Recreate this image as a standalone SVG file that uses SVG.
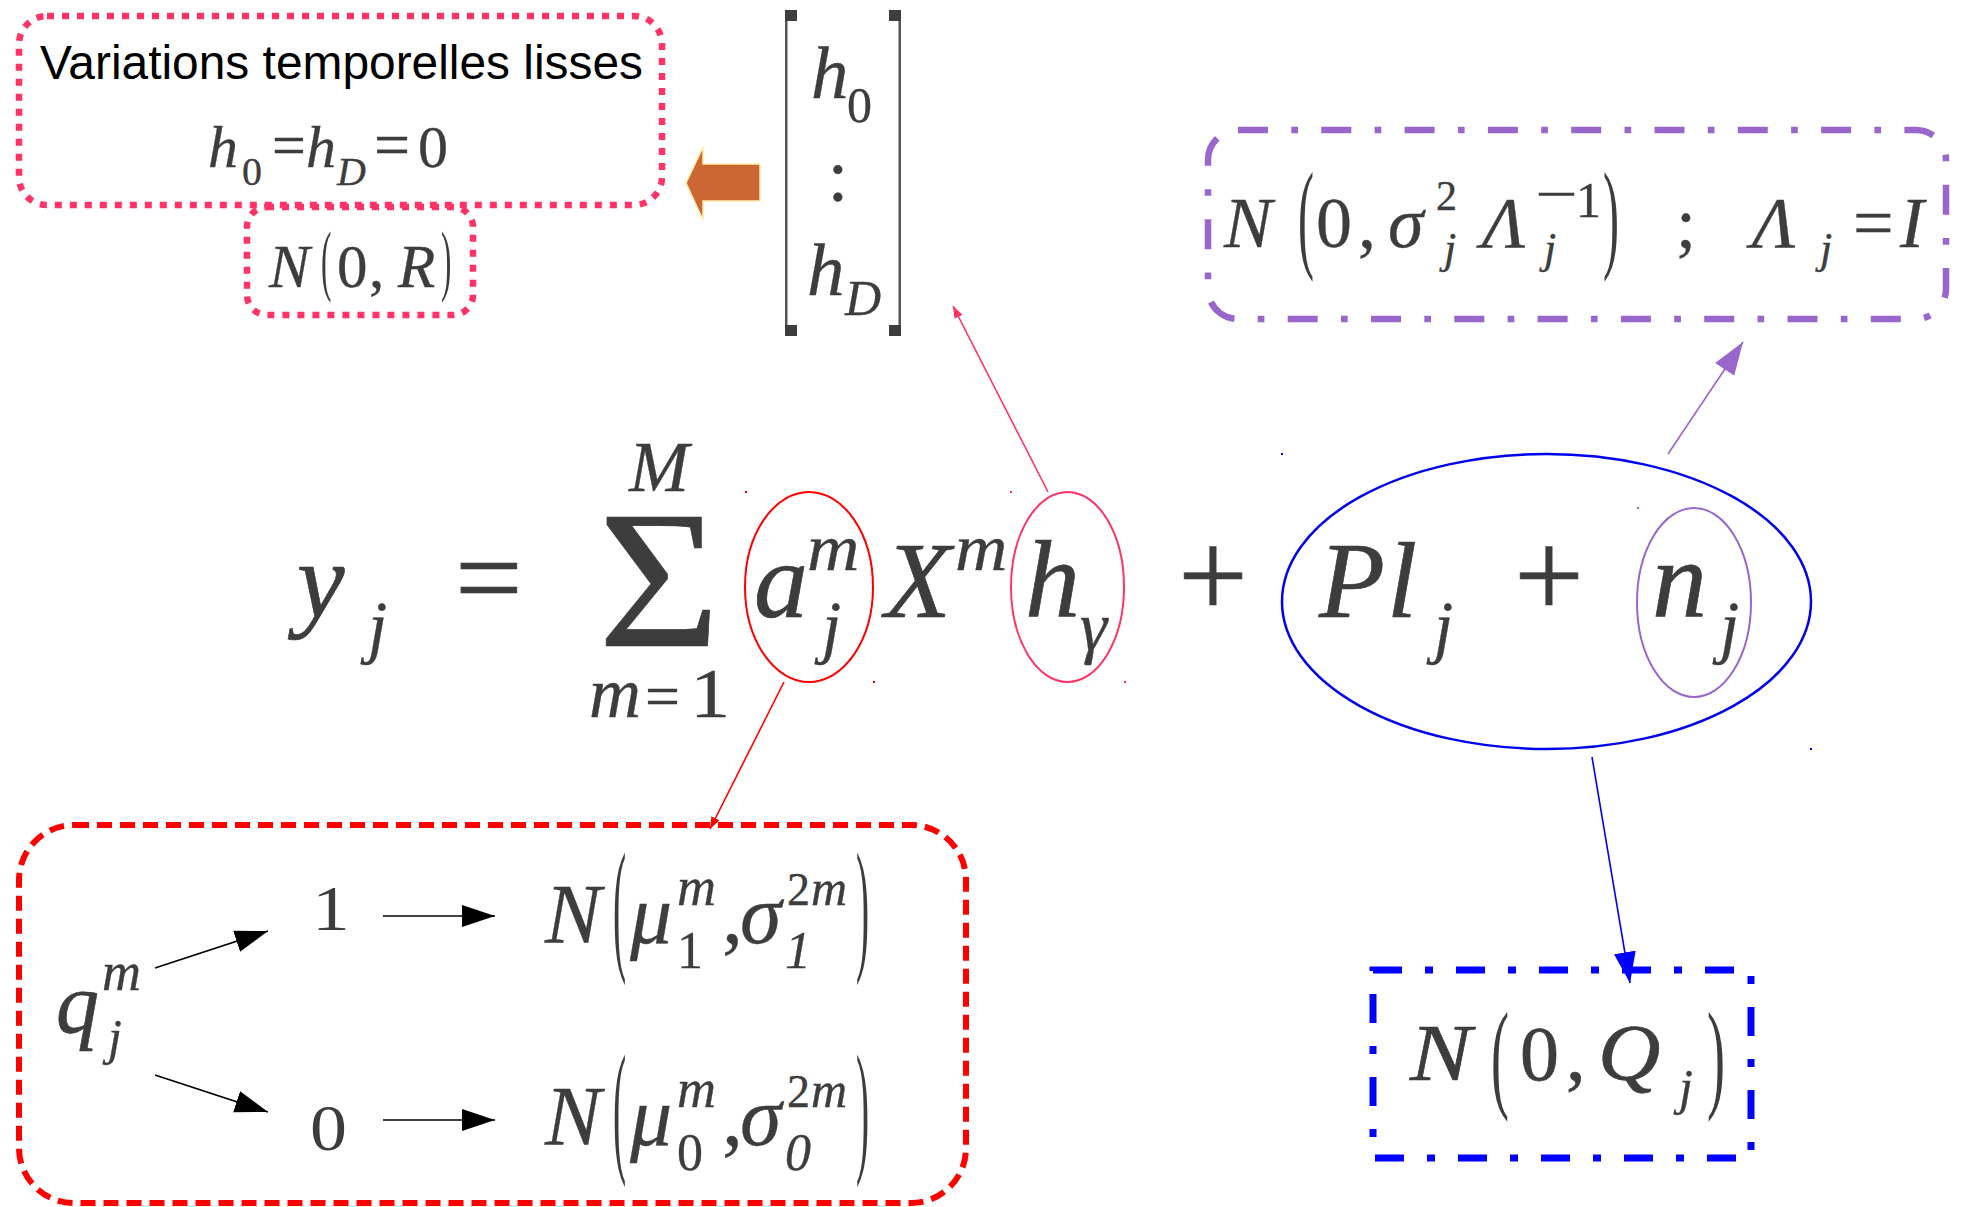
<svg xmlns="http://www.w3.org/2000/svg" width="1961" height="1207" viewBox="0 0 1961 1207">
<defs>
<style>
.m{font-family:"Liberation Serif",serif;font-style:italic;fill:#3d3d3d;stroke:#3d3d3d;stroke-width:0.35}
.u{font-family:"Liberation Serif",serif;fill:#3d3d3d;stroke:#3d3d3d;stroke-width:0.35}
.big{stroke-width:0.7}
.thin{stroke-width:0}
.lbl{font-family:"Liberation Sans",sans-serif;fill:#000}
.pinkbox{fill:none;stroke:#ff3366;stroke-width:6.5;stroke-dasharray:7 8}
.redbox{fill:none;stroke:#ff0000;stroke-width:6;stroke-dasharray:15 8}
.purplebox{fill:none;stroke:#9966cc;stroke-width:6.5;stroke-dasharray:30 23.3 6.7 23.3}
.bluebox{fill:none;stroke:#0000ff;stroke-width:7;stroke-dasharray:29 23 8 23}
.conn{fill:none;stroke-width:1.6}
.ell{fill:none}
</style>
<marker id="ahBlack" markerUnits="userSpaceOnUse" markerWidth="34" markerHeight="23" refX="33" refY="11" orient="auto"><path d="M0,0 L33,11 L0,22 z" fill="#000"/></marker>
<marker id="ahBlue" markerUnits="userSpaceOnUse" markerWidth="32" markerHeight="23" refX="31" refY="11" orient="auto"><path d="M0,0 L31,11 L0,22 z" fill="#0000ff"/></marker>
<marker id="ahPurple" markerUnits="userSpaceOnUse" markerWidth="34" markerHeight="24" refX="33" refY="11.5" orient="auto"><path d="M0,0 L33,11.5 L0,23 z" fill="#9966cc"/></marker>
<marker id="ahPink" markerUnits="userSpaceOnUse" markerWidth="13" markerHeight="10" refX="12" refY="4.5" orient="auto"><path d="M0,0 L12,4.5 L0,9 z" fill="#ff3366"/></marker>
<marker id="ahRed" markerUnits="userSpaceOnUse" markerWidth="13" markerHeight="10" refX="12" refY="4.5" orient="auto"><path d="M0,0 L12,4.5 L0,9 z" fill="#ff0000"/></marker>
</defs>
<rect width="1961" height="1207" fill="#fff"/>

<g id="box-smooth">
<rect class="pinkbox" x="19" y="16" width="643" height="189" rx="28"/>
<text class="lbl" x="40" y="79" font-size="47.5" textLength="603" lengthAdjust="spacingAndGlyphs">Variations temporelles lisses</text>
<text class="m" x="208" y="167" font-size="60">h</text>
<text class="u" x="242" y="185" font-size="40">0</text>
<text class="u" x="272" y="165" font-size="60">=</text>
<text class="m" x="306" y="167" font-size="60">h</text>
<text class="m" x="337" y="185" font-size="40">D</text>
<text class="u" x="374" y="166" font-size="64">=</text>
<text class="u" x="418" y="167" font-size="60">0</text>
</g>

<g id="box-NR">
<rect class="pinkbox" x="247" y="207" width="226" height="108" rx="20"/>
<text class="m" x="269" y="287" font-size="61">N</text>
<text class="u thin" font-size="78" transform="translate(321,286) scale(0.4,1)">(</text>
<text class="u" x="337" y="287" font-size="61">0</text>
<text class="u" x="369" y="287" font-size="61">,</text>
<text class="m" x="398" y="287" font-size="61">R</text>
<text class="u thin" font-size="78" transform="translate(441,286) scale(0.4,1)">)</text>
</g>

<g id="matrix-h">
<rect x="785" y="10" width="2.5" height="326" fill="#555"/>
<rect x="785" y="10" width="12" height="11" fill="#3d3d3d"/>
<rect x="785" y="325" width="12" height="11" fill="#3d3d3d"/>
<rect x="898.5" y="10" width="2.5" height="326" fill="#555"/>
<rect x="889" y="10" width="12" height="11" fill="#3d3d3d"/>
<rect x="889" y="325" width="12" height="11" fill="#3d3d3d"/>
<text class="m" x="811" y="98" font-size="75">h</text>
<text class="u" x="847" y="122" font-size="50">0</text>
<text class="u" x="838" y="201" font-size="75" text-anchor="middle">:</text>
<text class="m" x="807" y="295" font-size="75">h</text>
<text class="m" x="845" y="315" font-size="50">D</text>
</g>

<g id="equation">
<text class="m big" x="297" y="617" font-size="107">y</text>
<text class="m" x="368" y="650" font-size="69">j</text>
<text class="u big" x="455" y="618" font-size="120">=</text>
<text class="u big" font-size="196" transform="translate(598,646) scale(1.07,1)">Σ</text>
<text class="m" x="629" y="491" font-size="72">M</text>
<text class="m" x="589" y="717" font-size="72">m</text>
<text class="u" x="645" y="717" font-size="62">=</text>
<text class="u" font-size="70" transform="translate(690,717) scale(1.15,1)">1</text>
<text class="m big" x="754" y="617" font-size="108">a</text>
<text class="m" font-size="66" transform="translate(807,570) scale(1.1,1)">m</text>
<text class="m" x="822" y="650" font-size="69">j</text>
<text class="m big" x="885" y="617" font-size="108">X</text>
<text class="m" font-size="66" transform="translate(955,570) scale(1.1,1)">m</text>
<text class="m big" x="1025" y="617" font-size="110">h</text>
<text class="m" x="1080" y="650" font-size="69">γ</text>
<text class="u big" x="1178" y="617" font-size="124">+</text>
<text class="m big" x="1319" y="617" font-size="108">P</text>
<text class="m big" x="1387" y="617" font-size="108">l</text>
<text class="m" x="1434" y="650" font-size="69">j</text>
<text class="u big" x="1514" y="617" font-size="124">+</text>
<text class="m big" x="1652" y="617" font-size="110">n</text>
<text class="m" x="1720" y="650" font-size="69">j</text>
</g>

<g id="circle-a"><ellipse class="ell" cx="809" cy="587" rx="64" ry="95" stroke="#ff0000" stroke-width="2"/></g>
<g id="circle-h"><ellipse class="ell" cx="1067.5" cy="587" rx="56.5" ry="95" stroke="#ff3366" stroke-width="2"/></g>
<g id="circle-noise"><ellipse class="ell" cx="1546.5" cy="601.5" rx="264.5" ry="147.5" stroke="#0000ee" stroke-width="2.5"/></g>
<g id="circle-n"><ellipse class="ell" cx="1694" cy="602.5" rx="57" ry="94.5" stroke="#9966cc" stroke-width="2"/></g>

<g id="marks">
<rect x="745" y="491" width="2" height="2" fill="#ff0000"/>
<rect x="873" y="681" width="2" height="2" fill="#ff0000"/>
<rect x="1010" y="491" width="2" height="2" fill="#ff3366"/>
<rect x="1124" y="681" width="2" height="2" fill="#ff3366"/>
<rect x="1281" y="453" width="2" height="2" fill="#0000ee"/>
<rect x="1810" y="748" width="2" height="2" fill="#0000ee"/>
<rect x="1637" y="507" width="2" height="2" fill="#9966cc"/>
</g>

<g id="box-mixture">
<rect class="redbox" x="19" y="825" width="947" height="378" rx="55"/>
<text class="m big" x="56" y="1032" font-size="86">q</text>
<text class="m" x="102" y="990" font-size="54">m</text>
<text class="m" x="108" y="1054" font-size="50">j</text>
<text class="u thin" font-size="64" transform="translate(312,930) scale(1.18,1)">1</text>
<text class="u thin" font-size="66" transform="translate(310,1150) scale(1.12,1)">0</text>
<text class="m" x="545" y="943" font-size="84">N</text>
<text class="u thin" font-size="146" transform="translate(613,954) scale(0.27,1)">(</text>
<text class="m" x="630" y="943" font-size="84">μ</text>
<text class="m" x="677" y="905" font-size="54">m</text>
<text class="u" x="677" y="968" font-size="52">1</text>
<text class="u" x="722" y="943" font-size="84">,</text>
<text class="m" x="740" y="943" font-size="84">σ</text>
<text class="u" x="787" y="905" font-size="46">2</text>
<text class="m" x="811" y="905" font-size="50">m</text>
<text class="m" x="785" y="968" font-size="52">1</text>
<text class="u thin" font-size="146" transform="translate(856,954) scale(0.27,1)">)</text>
<text class="m" x="545" y="1145" font-size="84">N</text>
<text class="u thin" font-size="146" transform="translate(613,1156) scale(0.27,1)">(</text>
<text class="m" x="630" y="1145" font-size="84">μ</text>
<text class="m" x="677" y="1107" font-size="54">m</text>
<text class="u" x="677" y="1170" font-size="52">0</text>
<text class="u" x="722" y="1145" font-size="84">,</text>
<text class="m" x="740" y="1145" font-size="84">σ</text>
<text class="u" x="787" y="1107" font-size="46">2</text>
<text class="m" x="811" y="1107" font-size="50">m</text>
<text class="m" x="785" y="1170" font-size="52">0</text>
<text class="u thin" font-size="146" transform="translate(856,1156) scale(0.27,1)">)</text>
</g>

<g id="box-Q">
<rect class="bluebox" x="1373" y="970" width="378" height="188"/>
<text class="m big" font-size="80" transform="translate(1410,1080) scale(1.15,1)">N</text>
<text class="u thin" font-size="120" transform="translate(1491,1096) scale(0.45,1)">(</text>
<text class="u big" x="1520" y="1080" font-size="78">0</text>
<text class="u big" x="1566" y="1080" font-size="78">,</text>
<text class="m big" font-size="80" transform="translate(1598,1080) scale(1.08,1)">Q</text>
<text class="m" x="1679" y="1104" font-size="50">j</text>
<text class="u thin" font-size="120" transform="translate(1707,1096) scale(0.45,1)">)</text>
</g>

<g id="box-Lambda">
<rect class="purplebox" x="1208" y="130" width="738" height="189" rx="30"/>
<text class="m" x="1224" y="247" font-size="72">N</text>
<text class="u thin" font-size="120" transform="translate(1298,256) scale(0.4,1)">(</text>
<text class="u" x="1316" y="247" font-size="72">0</text>
<text class="u" x="1358" y="247" font-size="72">,</text>
<text class="m" x="1388" y="247" font-size="72">σ</text>
<text class="u" x="1436" y="210" font-size="42">2</text>
<text class="m" x="1444" y="263" font-size="44">j</text>
<text class="m" x="1482" y="247" font-size="72">Λ</text>
<text class="u" font-size="50" transform="translate(1535,211) scale(1.5,1)">−</text>
<text class="u" x="1576" y="217" font-size="50">1</text>
<text class="m" x="1544" y="263" font-size="44">j</text>
<text class="u thin" font-size="120" transform="translate(1603,256) scale(0.4,1)">)</text>
<text class="u" x="1676" y="247" font-size="72">;</text>
<text class="m" x="1752" y="247" font-size="72">Λ</text>
<text class="m" x="1820" y="263" font-size="44">j</text>
<text class="u" x="1853" y="247" font-size="72">=</text>
<text class="m" x="1900" y="247" font-size="72">I</text>
</g>

<g id="connectors">
<polygon points="686,183 703,147 703,164 760,164 760,201 703,201 703,220" fill="#cc6633" stroke="#ffeeaa" stroke-width="1.5"/>
<line class="conn" x1="1048" y1="492" x2="953" y2="306" stroke="#ff3366" marker-end="url(#ahPink)"/>
<line class="conn" x1="784" y1="682" x2="710" y2="829" stroke="#ff0000" marker-end="url(#ahRed)"/>
<line class="conn" x1="1668" y1="454" x2="1743" y2="342" stroke="#9966cc" marker-end="url(#ahPurple)"/>
<line class="conn" x1="1592" y1="757" x2="1630" y2="983" stroke="#0000ff" marker-end="url(#ahBlue)"/>
<line class="conn" x1="155" y1="968" x2="268" y2="931" stroke="#000" marker-end="url(#ahBlack)"/>
<line class="conn" x1="155" y1="1075" x2="268" y2="1112" stroke="#000" marker-end="url(#ahBlack)"/>
<line class="conn" x1="383" y1="916" x2="495" y2="916" stroke="#000" marker-end="url(#ahBlack)"/>
<line class="conn" x1="383" y1="1120" x2="495" y2="1120" stroke="#000" marker-end="url(#ahBlack)"/>
</g>
</svg>
